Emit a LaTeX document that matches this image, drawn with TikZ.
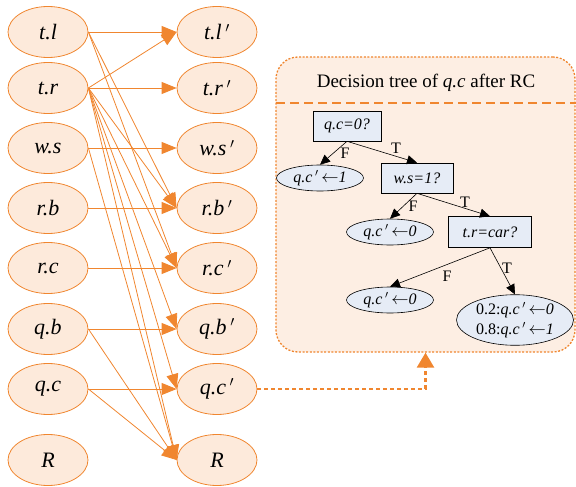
\documentclass[tikz,border=0pt]{standalone}
\usepackage{fontspec}
\setmainfont{Liberation Serif}
\usetikzlibrary{arrows.meta,shapes.geometric}

\definecolor{org}{HTML}{F0862F}
\definecolor{orgfill}{HTML}{FDEADB}
\definecolor{panelfill}{HTML}{FDEEE3}
\definecolor{treefill}{HTML}{E6ECF6}

\tikzset{
    var/.style={ellipse, draw=org, fill=orgfill, line width=0.8pt, inner sep=0pt,
        minimum width=80pt, minimum height=51pt, font=\fontsize{22}{26}\selectfont\itshape},
    dep/.style={draw=org, line width=0.8pt, -{Triangle[length=15pt,width=12pt]}},
    test/.style={rectangle, draw, fill=treefill, line width=0.6pt, inner sep=0pt,
        minimum height=30pt, font=\fontsize{16}{19}\selectfont\itshape},
    leaf/.style={ellipse, draw, fill=treefill, line width=0.6pt, inner sep=0pt,
        minimum width=87pt, minimum height=26pt, font=\fontsize{16}{19}\selectfont},
    branch/.style={draw, line width=0.6pt, -{Triangle[length=10pt,width=9pt]}},
    lab/.style={font=\fontsize{16}{19}\selectfont, inner sep=1pt}
}

\begin{document}
\begin{tikzpicture}[x=1pt,y=-1pt]
    \useasboundingbox (0,0) rectangle (576,487);

    % variables at time t
    \node [var] (tl) at (48,32)  {t.l};
    \node [var] (tr) at (48,88)  {t.r};
    \node [var] (ws) at (48,148) {w.s};
    \node [var] (rb) at (48,208) {r.b};
    \node [var] (rc) at (48,268) {r.c};
    \node [var] (qb) at (48,329) {q.b};
    \node [var] (qc) at (48,389) {q.c};
    \node [var] (R)  at (48,460) {R};

    % variables at time t+1
    \node [var] (tlp) at (217,32)  {t.l\,$'$};
    \node [var] (trp) at (217,88)  {t.r\,$'$};
    \node [var] (wsp) at (217,148) {w.s\,$'$};
    \node [var] (rbp) at (217,208) {r.b\,$'$};
    \node [var] (rcp) at (217,268) {r.c\,$'$};
    \node [var] (qbp) at (217,329) {q.b\,$'$};
    \node [var] (qcp) at (217,389) {q.c\,$'$};
    \node [var] (Rp)  at (217,460) {R};

    \draw [dep] (tl.east) -- (tlp.west);
    \draw [dep] (tl.east) -- (rbp.west);
    \draw [dep] (tl.east) -- (rcp.west);

    \draw [dep] (tr.east) -- (tlp.west);
    \draw [dep] (tr.east) -- (trp.west);
    \draw [dep] (tr.east) -- (rbp.west);
    \draw [dep] (tr.east) -- (rcp.west);
    \draw [dep] (tr.east) -- (qbp.west);
    \draw [dep] (tr.east) -- (qcp.west);
    \draw [dep] (tr.east) -- (Rp.west);

    \draw [dep] (ws.east) -- (wsp.west);
    \draw [dep] (ws.east) -- (Rp.west);
    \draw [dep] (rb.east) -- (rbp.west);
    \draw [dep] (rc.east) -- (rcp.west);
    \draw [dep] (qb.east) -- (qbp.west);
    \draw [dep] (qb.east) -- (Rp.west);
    \draw [dep] (qc.east) -- (qcp.west);
    \draw [dep] (qc.east) -- (Rp.west);

    % decision tree panel
    \node [draw=org, fill=panelfill, rounded corners=22pt, line width=1.3pt,
        dash pattern=on 2pt off 1.6pt, minimum width=299pt, minimum height=295pt]
        (panel) at (425.5,204.5) {};
    \node [font=\fontsize{19}{22}\selectfont] (title) at (426,83)
        {Decision tree of \textit{q.c} after RC};
    \coordinate (sepl) at (276,103);
    \coordinate (sepr) at (576,103);
    \draw [org, line width=1.2pt, dash pattern=on 9pt off 5pt] (sepl) -- (sepr);

    \node [test, minimum width=68pt] (qc0) at (347,126) {q.c=0?};
    \node [leaf] (l1) at (320,178) {\textit{q.c}\,$'$\,$\leftarrow$\textit{1}};
    \node [test, minimum width=72pt] (ws1) at (417,178) {w.s=1?};
    \node [leaf] (l2) at (390,232) {\textit{q.c}\,$'$\,$\leftarrow$\textit{0}};
    \node [test, minimum width=83pt, minimum height=31pt] (trcar) at (490,232) {t.r=car?};
    \node [leaf] (l3) at (390,300) {\textit{q.c}\,$'$\,$\leftarrow$\textit{0}};
    \node [leaf, minimum width=117pt, minimum height=48pt, align=center,
        font=\fontsize{16}{20}\selectfont] (l4) at (515,320)
        {0.2:\textit{q.c}\,$'$\,$\leftarrow$\textit{0}\\0.8:\textit{q.c}\,$'$\,$\leftarrow$\textit{1}};

    \draw [branch] (qc0.south) -- (l1.north);
    \draw [branch] (qc0.south) -- (ws1.north);
    \draw [branch] (ws1.south) -- (l2.north);
    \draw [branch] (ws1.south) -- (trcar.north);
    \draw [branch] (trcar.south) -- (l3.north);
    \draw [branch] (trcar.south) -- (l4.north);

    \node [lab] (f1) at (345,153) {F};
    \node [lab] (t1) at (396,148) {T};
    \node [lab] (f2) at (413,206) {F};
    \node [lab] (t2) at (465,202) {T};
    \node [lab] (f3) at (447,276) {F};
    \node [lab] (t3) at (507,268) {T};

    % link from q.c' to its tree
    \draw [org, line width=2.5pt, dash pattern=on 4pt off 3pt,
        -{Triangle[length=15pt,width=17pt]}] (qcp.east) -| (panel.south);
\end{tikzpicture}
\end{document}
